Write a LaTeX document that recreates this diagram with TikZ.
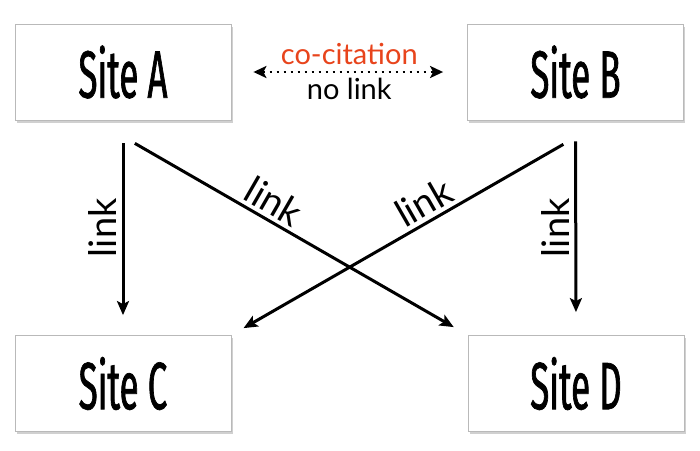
\documentclass[tikz,border=0pt]{standalone}
\usepackage{fontspec}
\setmainfont{Lato}
\newfontfamily\boxfont[FakeStretch=0.52,FakeBold=1]{Fira Sans}
\usetikzlibrary{shadows,arrows.meta}
\definecolor{cocit}{RGB}{232,68,28}
\begin{document}
\begin{tikzpicture}[x=1pt,y=-1pt,
  site/.style={draw=gray!55, line width=0.8pt, fill=white, minimum width=216pt, minimum height=96pt,
    drop shadow={shadow xshift=1.5pt, shadow yshift=-2.5pt, fill=black!30, opacity=0.6},
    font=\boxfont\fontsize{67}{70}\selectfont, inner sep=0pt},
  arr/.style={line width=3pt, -{Stealth[length=14pt,width=12pt,inset=3pt]}},
  lbl/.style={font=\fontsize{38}{40}\selectfont, inner sep=3pt}]
\useasboundingbox (0,0) rectangle (700,450);
\fill[white] (0,0) rectangle (700,450);
\node[site] (A) at (123,72) {Site A};
\node[site] (B) at (575.5,72) {Site B};
\node[site] (C) at (123,383.5) {Site C};
\node[site] (D) at (576,383.5) {Site D};
\draw[arr, shorten <=23pt, shorten >=20pt] (A.south) -- node[midway, anchor=south, rotate=90, lbl, inner sep=5pt] (l1) {link} (C.north);
\draw[arr, shorten <=21pt, shorten >=23pt] (B.south) -- node[midway, anchor=south, rotate=90, lbl, inner sep=5pt] (l4) {link} (D.north);
\draw[arr, shorten <=46pt, shorten >=16pt] ([xshift=-28pt]A.south) -- node[pos=0.455, sloped, above, lbl, inner sep=4pt] (l2) {link} (D.north west);
\draw[arr, shorten <=48pt, shorten >=14pt] ([xshift=29.5pt]B.south) -- node[pos=0.46, sloped, above, lbl, inner sep=4pt] (l3) {link} (C.north east);
\draw[line width=2.4pt, dash pattern=on 2.4pt off 4.6pt, {Stealth[length=13pt,width=12pt,inset=3pt]}-{Stealth[length=13pt,width=12pt,inset=3pt]}, shorten <=22pt, shorten >=24pt] (A.east) -- node[midway, above=4pt, text=cocit, font=\fontsize{29}{30}\selectfont, inner sep=2pt] (cc) {co-citation} node[midway, below=3pt, font=\fontsize{29}{30}\selectfont, inner sep=2pt] (nl) {no link} (B.west);
\end{tikzpicture}
\end{document}
